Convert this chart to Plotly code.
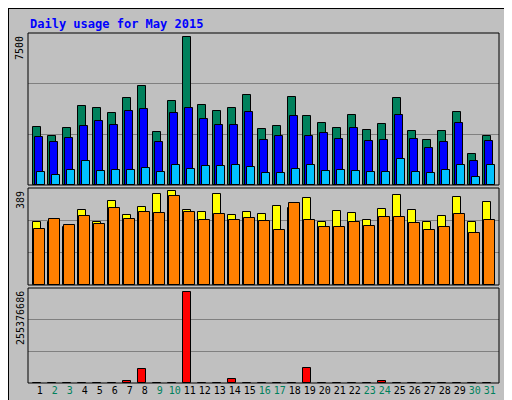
import plotly.graph_objects as go

days = list(range(1, 32))
weekend = [2, 3, 9, 10, 16, 17, 23, 24, 30, 31]

hits = [2885, 2440, 2835, 3874, 3824, 3577, 4269, 4863, 2637, 4121, 7286, 3923, 3676, 3775, 4418, 2786,
        2934, 4319, 3429, 3082, 2835, 3478, 2736, 3033, 4269, 2687, 2242, 2687, 3626, 1549, 2440]
files = [2390, 2143, 2340, 2934, 3181, 2983, 3675, 3774, 2143, 3577, 3824, 3280, 2983, 2983, 3626, 2241,
         2439, 3428, 2439, 2587, 2291, 2835, 2192, 2241, 3478, 2291, 1846, 2143, 3082, 1203, 2192]
pages = [659, 511, 758, 1203, 709, 758, 758, 857, 659, 1005, 808, 956, 956, 1005, 906, 610,
         610, 808, 1005, 709, 758, 709, 659, 659, 1302, 659, 610, 758, 1005, 412, 1005]
visits = [253, 253, 233, 302, 253, 335, 282, 314, 363, 375, 302, 294, 363, 282, 294, 286,
          318, 310, 347, 253, 298, 290, 262, 306, 359, 302, 253, 278, 351, 253, 331]
sites = [225, 266, 241, 278, 245, 310, 266, 294, 290, 355, 294, 262, 286, 262, 270, 257,
         221, 327, 262, 233, 233, 253, 237, 274, 274, 249, 221, 233, 286, 209, 262]
kb_f = [300000] * 31
for d, v in {7: 4500000, 8: 36700000, 11: 243700000, 14: 9860000, 19: 39400000, 24: 5400000}.items():
    kb_f[d - 1] = v

MAX1, MAX2, MAX3 = 7500, 389, 255376686
MONO = "DejaVu Sans Mono"
BG = "#c0c0c0"


def bar(y, color, offset, width, xa, ya):
    return go.Bar(x=days, y=y, offset=offset, width=width, xaxis=xa, yaxis=ya,
                  marker=dict(color=color, line=dict(color="black", width=1)),
                  showlegend=False, hoverinfo="skip")


fig = go.Figure()
fig.add_trace(bar(hits, "#00805c", -0.5, 0.52, "x", "y"))
fig.add_trace(bar(files, "#0000ff", -0.37, 0.52, "x", "y"))
fig.add_trace(bar(pages, "#00c0ff", -0.23, 0.52, "x", "y"))
fig.add_trace(bar(visits, "#ffff00", -0.5, 0.52, "x2", "y2"))
fig.add_trace(bar(sites, "#ff8000", -0.41, 0.69, "x2", "y2"))
fig.add_trace(bar(kb_f, "#ff0000", -0.5, 0.52, "x3", "y3"))

xdom = [20 / 512, 491 / 512]
xr = [0.17, 31.57]
ticktext = [f"<span style='color:{'#00805c' if d in weekend else 'black'}'>{d}</span>" for d in days]
xcommon = dict(range=xr, domain=xdom, showgrid=False, zeroline=False, fixedrange=True)


def yax(dom, mx):
    return dict(domain=dom, range=[0, mx], dtick=mx / 3, showgrid=True, gridcolor="#808080",
                gridwidth=1, showticklabels=False, zeroline=False, ticks="")


panels = [(25, 177), (180, 277), (280, 375)]
doms = [[1 - b / 400, 1 - t / 400] for t, b in panels]

fig.update_layout(
    width=512, height=400, margin=dict(l=0, r=0, t=0, b=0),
    paper_bgcolor=BG, plot_bgcolor=BG, barmode="overlay", bargap=0,
    font=dict(family=MONO, size=10, color="black"),
    xaxis=dict(**xcommon, anchor="y", showticklabels=False),
    xaxis2=dict(**xcommon, anchor="y2", showticklabels=False),
    xaxis3=dict(**xcommon, anchor="y3", tickvals=[d - 0.05 for d in days], ticktext=ticktext,
                tickangle=0, tickfont=dict(family=MONO, size=10), ticks="", ticklen=0),
    yaxis=yax(doms[0], MAX1), yaxis2=yax(doms[1], MAX2), yaxis3=yax(doms[2], MAX3),
)

shapes = [dict(type="rect", xref="paper", yref="paper", x0=0, x1=1, y0=0, y1=1,
               line=dict(color="black", width=2))]
for d in doms:
    shapes.append(dict(type="rect", xref="paper", yref="paper", x0=xdom[0], x1=xdom[1],
                       y0=d[0], y1=d[1], line=dict(color="black", width=1)))
fig.update_layout(shapes=shapes)

ann = [dict(text="<b>Daily usage for May 2015</b>", x=20 / 512, y=1 - 16 / 400, xanchor="left",
            yanchor="middle", font=dict(color="#0000ff", size=12, family=MONO))]
for lbl, (t, b) in zip(["7500", "389", "255376686"], panels):
    ann.append(dict(text=lbl, textangle=-90, x=12 / 512, y=1 - (t + 1) / 400, xanchor="center",
                    yanchor="top", font=dict(size=10, family=MONO)))

right = [
    [("Pages", "#00c0ff"), (" / ", "black"), ("Files", "#0000ff"), (" / ", "black"), ("Hits", "#00805c")],
    [("Sites", "#ff8000"), (" / ", "black"), ("Visits", "#e8e800")],
    [("kB F", "#ff0000"), (" / ", "black"), ("kB In", "#0000ff"), (" / ", "black"), ("kB Out", "#00805c")],
]
CW = 5.4
for segs, (t, b) in zip(right, panels):
    ypx = t + 2
    for txt, col in reversed(segs):
        h = len(txt) * CW
        ann.append(dict(text=txt.replace(" ", "&nbsp;"), textangle=-90, x=501 / 512,
                        y=1 - (ypx + h / 2) / 400, xanchor="center", yanchor="middle",
                        font=dict(size=9, family=MONO, color=col)))
        ypx += h
for a in ann:
    a.update(xref="paper", yref="paper", showarrow=False)
fig.update_layout(annotations=ann)

fig.write_html("out.html")
